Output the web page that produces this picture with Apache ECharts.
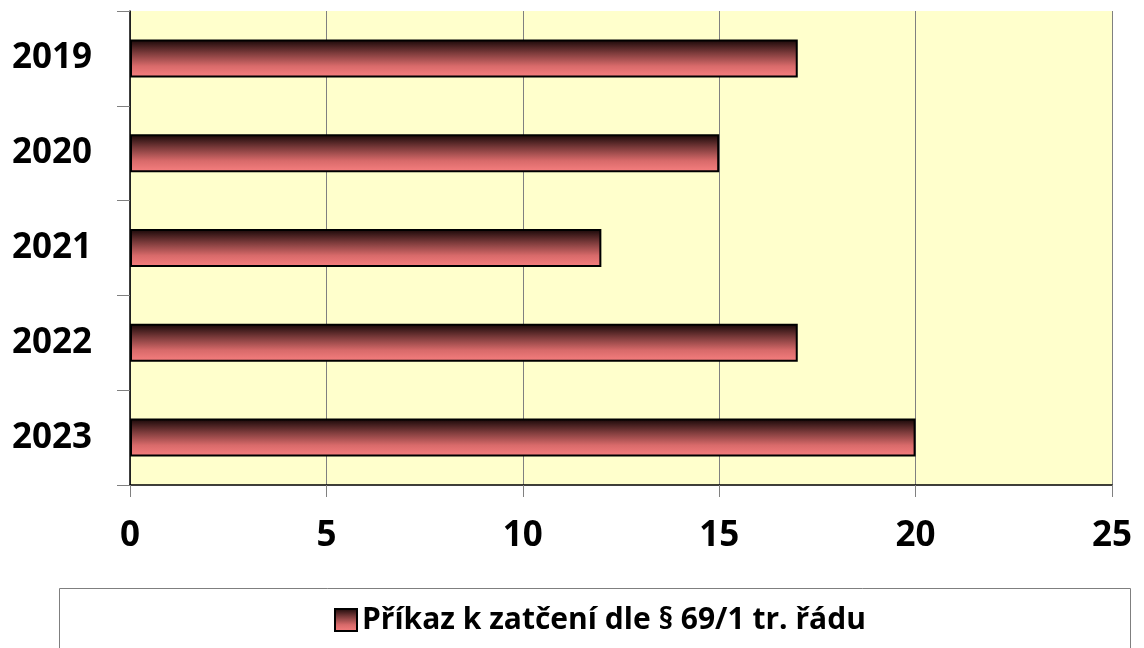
<!DOCTYPE html>
<html lang="cs">
<head>
<meta charset="UTF-8">
<title>Příkaz k zatčení</title>
<style>
  html, body { margin: 0; padding: 0; background: #fff; }
  #main { width: 1144px; height: 648px; }
</style>
</head>
<body>
<div id="main"></div>
<script src="https://cdn.jsdelivr.net/npm/echarts@6/dist/echarts.min.js"></script>
<script>
const years = ['2019', '2020', '2021', '2022', '2023'];
const counts = [17, 15, 12, 17, 20];
const seriesName = 'Příkaz k zatčení dle § 69/1 tr. řádu';
const xTicks = [0, 25, 5];   // min, max, step

const font = '"Open Sans", "Noto Sans", sans-serif';

const barFill = new echarts.graphic.LinearGradient(0, 0, 0, 1, [
  { offset: 0, color: '#150606' },
  { offset: 0.35, color: '#7a3a3a' },
  { offset: 0.7, color: '#d86a6a' },
  { offset: 1, color: '#f88080' }
]);

const chart = echarts.init(document.getElementById('main'));

chart.setOption({
  animation: false,
  textStyle: { fontFamily: font },
  grid: {
    left: 130, right: 32, top: 11, bottom: 163,
    show: true, backgroundColor: '#ffffcc', borderWidth: 0
  },
  graphic: [{
    type: 'rect',
    shape: { x: 59.5, y: 588.5, width: 1071, height: 70 },
    style: { fill: '#fff', stroke: '#7f7f7f', lineWidth: 1 },
    z: -1
  }],
  legend: {
    left: 329, top: 600,
    icon: 'rect',
    itemWidth: 22, itemHeight: 22, itemGap: 10,
    textStyle: { fontFamily: font, fontSize: 30, fontWeight: 'bold', color: '#000' },
    data: [{ name: seriesName, itemStyle: { borderColor: '#000', borderWidth: 2 } }]
  },
  xAxis: {
    type: 'value',
    min: xTicks[0], max: xTicks[1], interval: xTicks[2],
    axisLine: { show: true, lineStyle: { color: '#000', width: 1.5 } },
    axisTick: { show: true, length: 12, lineStyle: { color: '#808080' } },
    splitLine: { show: true, lineStyle: { color: '#808080', width: 1 } },
    axisLabel: { margin: 34, fontSize: 35, fontWeight: 'bold', color: '#000', fontFamily: font }
  },
  yAxis: {
    type: 'category',
    inverse: true,
    data: years,
    axisLine: { show: true, lineStyle: { color: '#000', width: 1.5 } },
    axisTick: { show: true, length: 13, alignWithLabel: false, lineStyle: { color: '#808080' } },
    axisLabel: { margin: 38, fontSize: 35, fontWeight: 'bold', color: '#000', fontFamily: font }
  },
  series: [{
    name: seriesName,
    type: 'bar',
    data: counts,
    barWidth: 38,
    itemStyle: { color: barFill, borderColor: '#000', borderWidth: 2 }
  }]
});
</script>
</body>
</html>
